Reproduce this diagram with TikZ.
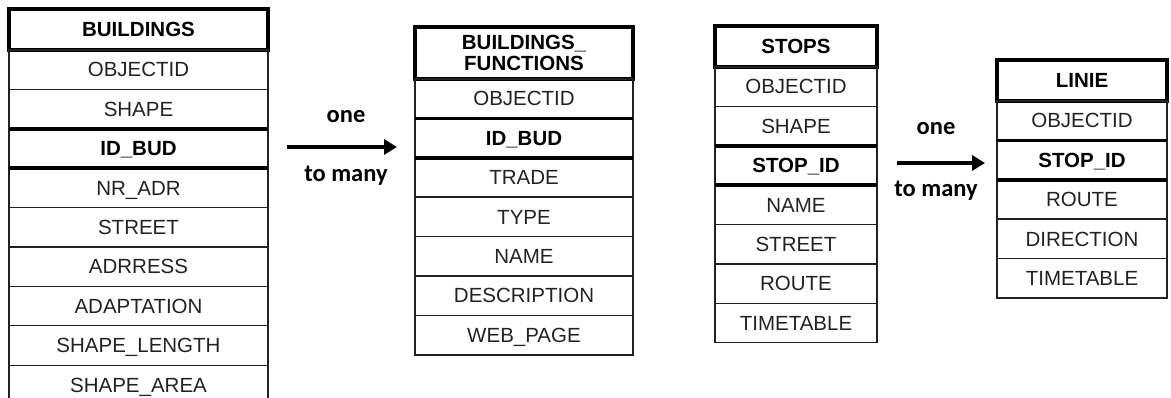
\documentclass[tikz,border=0pt]{standalone}
\usepackage{fontspec}
\setmainfont{Liberation Sans}
\newfontfamily\relfont{Carlito}
\usepackage{tikz}
\usetikzlibrary{positioning, arrows.meta}
\definecolor{inkgray}{RGB}{34,34,34}

\begin{document}
\begin{tikzpicture}[
        x=1pt, y=-1pt,
        field/.style={rectangle, draw=inkgray, line width=1.4pt, outer sep=0pt, inner sep=0pt, minimum height=39.4pt, text height=14.5pt, text depth=0pt, font=\fontsize{20.5}{22}\selectfont, text=inkgray},
        keyfield/.style={field, font=\fontsize{20.5}{22}\selectfont\bfseries, text=black},
        tabhead/.style={field, draw=black, line width=3.8pt, minimum height=41pt, font=\fontsize{20.5}{21}\selectfont\bfseries, text=black},
        keyline/.style={draw=black, line width=3.6pt},
        relarrow/.style={-{Triangle[length=13pt, width=15pt]}, line width=3.8pt},
        relword/.style={anchor=base, inner sep=0pt, font=\relfont\fontsize{24.5}{26}\selectfont\bfseries}
    ]
        \useasboundingbox (0,0) rectangle (1171,398);

        % Buildings table
        \begin{scope}[every node/.append style={minimum width=259pt}]
        \node[tabhead] (bud) at (138.5,29.5) {BUILDINGS};
        \node[field, below=0pt of bud] (bud-oid) {OBJECTID};
        \node[field, below=0pt of bud-oid] (bud-shape) {SHAPE};
        \node[keyfield, below=0pt of bud-shape] (bud-id) {ID\_BUD};
        \node[field, below=0pt of bud-id] (bud-nr) {NR\_ADR};
        \node[field, below=0pt of bud-nr] (bud-street) {STREET};
        \node[field, below=0pt of bud-street] (bud-adr) {ADRRESS};
        \node[field, below=0pt of bud-adr] (bud-adapt) {ADAPTATION};
        \node[field, below=0pt of bud-adapt] (bud-len) {SHAPE\_LENGTH};
        \node[field, below=0pt of bud-len] (bud-area) {SHAPE\_AREA};
        \end{scope}
        \draw[keyline] (bud-id.north west) -- (bud-id.north east);
        \draw[keyline] (bud-id.south west) -- (bud-id.south east);

        % Buildings functions table
        \begin{scope}[every node/.append style={minimum width=218pt}]
        \node[tabhead, minimum height=52pt, align=center, text height=, text depth=] (fun) at (524,53) {BUILDINGS\_\\FUNCTIONS};
        \node[field, below=0pt of fun] (fun-oid) {OBJECTID};
        \node[keyfield, below=0pt of fun-oid] (fun-id) {ID\_BUD};
        \node[field, below=0pt of fun-id] (fun-trade) {TRADE};
        \node[field, below=0pt of fun-trade] (fun-type) {TYPE};
        \node[field, below=0pt of fun-type] (fun-name) {NAME};
        \node[field, below=0pt of fun-name] (fun-desc) {DESCRIPTION};
        \node[field, below=0pt of fun-desc] (fun-web) {WEB\_PAGE};
        \end{scope}
        \draw[keyline] (fun-id.north west) -- (fun-id.north east);
        \draw[keyline] (fun-id.south west) -- (fun-id.south east);

        % Stops table
        \begin{scope}[every node/.append style={minimum width=162pt}]
        \node[tabhead] (stops) at (796,46.5) {STOPS};
        \node[field, below=0pt of stops] (stops-oid) {OBJECTID};
        \node[field, below=0pt of stops-oid] (stops-shape) {SHAPE};
        \node[keyfield, below=0pt of stops-shape] (stops-id) {STOP\_ID};
        \node[field, below=0pt of stops-id] (stops-name) {NAME};
        \node[field, below=0pt of stops-name] (stops-street) {STREET};
        \node[field, below=0pt of stops-street] (stops-route) {ROUTE};
        \node[field, below=0pt of stops-route] (stops-time) {TIMETABLE};
        \end{scope}
        \draw[keyline] (stops-id.north west) -- (stops-id.north east);
        \draw[keyline] (stops-id.south west) -- (stops-id.south east);

        % Linie table
        \begin{scope}[every node/.append style={minimum width=170pt}]
        \node[tabhead] (linie) at (1082,80.5) {LINIE};
        \node[field, below=0pt of linie] (linie-oid) {OBJECTID};
        \node[keyfield, below=0pt of linie-oid] (linie-id) {STOP\_ID};
        \node[field, below=0pt of linie-id] (linie-route) {ROUTE};
        \node[field, below=0pt of linie-route] (linie-dir) {DIRECTION};
        \node[field, below=0pt of linie-dir] (linie-time) {TIMETABLE};
        \end{scope}
        \draw[keyline] (linie-id.north west) -- (linie-id.north east);
        \draw[keyline] (linie-id.south west) -- (linie-id.south east);

        % Relations
        \coordinate (rel1-from) at (287,147);
        \coordinate (rel1-to) at (397,147);
        \draw[relarrow] (rel1-from) -- (rel1-to)
            node[midway, relword, xshift=4pt, yshift=24pt] {one}
            node[midway, relword, xshift=4pt, yshift=-35pt] {to many};

        \coordinate (rel2-from) at (897,163);
        \coordinate (rel2-to) at (985,163);
        \draw[relarrow] (rel2-from) -- (rel2-to)
            node[midway, relword, xshift=-5pt, yshift=28pt] {one}
            node[midway, relword, xshift=-5pt, yshift=-34pt] {to many};
    \end{tikzpicture}
\end{document}
